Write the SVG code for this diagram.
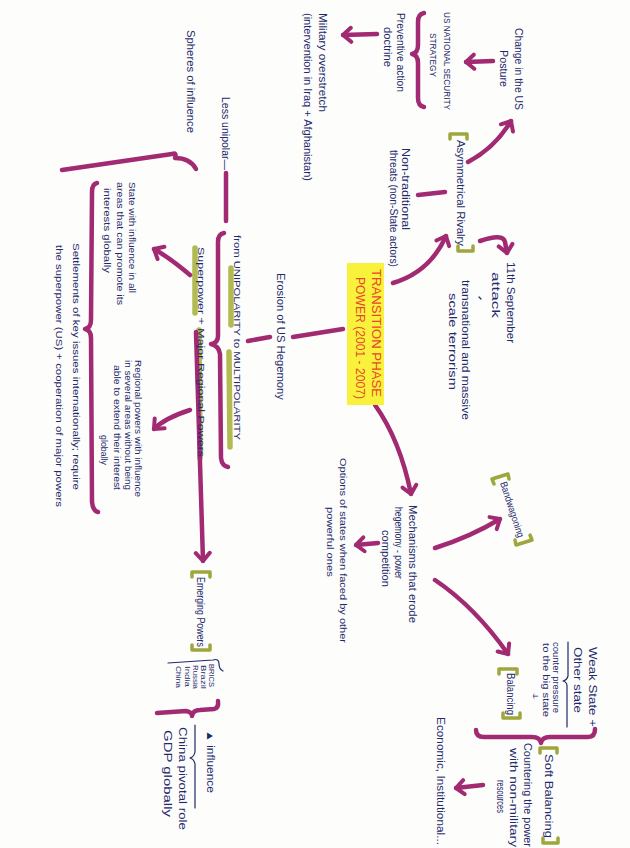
<svg xmlns="http://www.w3.org/2000/svg" width="630" height="848" viewBox="0 0 630 848">
<defs>
<style>
.t{font-family:"Liberation Sans",Arial,sans-serif;font-size:10px;fill:#1f2a6b;}
.s{font-size:8.5px;}
.xs{font-size:7px;}
.r{font-family:"Liberation Sans",Arial,sans-serif;font-size:12px;fill:#e8452c;}
.m{fill:none;stroke:#a12a72;stroke-width:4.5;stroke-linecap:round;stroke-linejoin:round;}
.g{fill:none;stroke:#9ea63c;stroke-width:3.5;stroke-linecap:round;stroke-linejoin:round;}
.hl{fill:none;stroke:#aab33f;stroke-width:5.5;stroke-linecap:round;opacity:0.9;}
.n{fill:none;stroke:#1f2a6b;stroke-width:1.2;stroke-linecap:round;stroke-linejoin:round;}
</style>
<marker id="ah" viewBox="-12 -10 16 20" refX="0" refY="0" markerWidth="16" markerHeight="20" markerUnits="userSpaceOnUse" orient="auto">
<path d="M-8,-7 L0,0 L-8,7" fill="none" stroke="#a12a72" stroke-width="4" stroke-linecap="round" stroke-linejoin="round"/>
</marker>
</defs>
<rect x="0" y="0" width="630" height="848" fill="#fdfdfc"/>

<g id="highlights">
<path class="hl" d="M231,268 L231,325"/>
<path class="hl" d="M229,352 L230,447"/>
<path class="hl" d="M195,248 L195,313"/>
<path class="hl" d="M199,330 L200,458"/>
</g>

<g id="connectors">
<path class="m" marker-end="url(#ah)" d="M493,61 L466,62"/>
<path class="m" marker-end="url(#ah)" d="M377,34 L343,35"/>
<path class="m" marker-end="url(#ah)" d="M468,162 Q495,148 511,121"/>
<path class="m" marker-end="url(#ah)" d="M393,283 Q430,272 446,236"/>
<path class="m" marker-end="url(#ah)" d="M480,241 Q503,233 505,242 L507,253"/>
<path class="m" marker-end="url(#ah)" d="M375,405 Q400,440 411,494"/>
<path class="m" marker-end="url(#ah)" d="M378,543 L356,545"/>
<path class="m" marker-end="url(#ah)" d="M435,548 Q470,537 500,519"/>
<path class="m" marker-end="url(#ah)" d="M435,580 Q475,607 508,654"/>
<path class="m" marker-end="url(#ah)" d="M483,785 L456,788"/>
<path class="m" marker-end="url(#ah)" d="M190,275 Q170,258 154,249"/>
<path class="m" marker-end="url(#ah)" d="M190,410 Q165,418 154,429"/>
<path class="m" marker-end="url(#ah)" d="M196,332 L203,561"/>
<path class="m" d="M343,329 L293,337"/>
<path class="m" d="M270,337 L248,341"/>
<path class="m" d="M418,195 L445,192"/>
<path class="m" d="M226,173 L226,221"/>
</g>

<g id="braces">
<path class="m" d="M424,13 Q418,14 418,22 L418,45 Q418,53 412,54 Q418,55 418,63 L418,98 Q418,106 424,107"/>
<path class="m" d="M224,233 Q218,234 218,242 L218,336 Q218,343 211,344 Q219,346 220,354 L221,458 Q222,466 228,467"/>
<path class="m" d="M97,183 Q92,184 92,192 L91,320 Q91,328 85,329 Q91,330 91,338 L92,502 Q93,511 98,512"/>
<path class="m" d="M62,170 L172,154 Q177,152 175,158 Q190,158 196,169"/>
<path class="m" d="M476,730 Q476,737 484,737 L532,737 Q540,737 541,743 Q542,737 550,737 L588,737 Q595,737 595,729"/>
<path class="m" d="M157,713 L186,711 Q192,712 192,716 Q193,710 200,710 L214,709 Q219,708 218,701"/>
<path class="n" d="M568,642 L568,676 Q567,680 563,681 Q567,682 567,686 L567,727"/>
<path class="n" d="M168,663 L213,660 Q219,658 219,664 Q219,669 223,671"/>
<path class="n" d="M195,725 L195,752 Q194,757 190,758 Q194,759 195,764 L195,808"/>
<path class="n" d="M479,297 L481,299"/>
</g>

<g id="n-change">
<text class="t" transform="translate(515,28) rotate(90)" textLength="82" lengthAdjust="spacingAndGlyphs">Change in the US</text>
<text class="t" transform="translate(500,50) rotate(90)" textLength="37" lengthAdjust="spacingAndGlyphs">Posture</text>
</g>
<g id="n-nss">
<text class="t s" transform="translate(444,12) rotate(90)" textLength="98" lengthAdjust="spacingAndGlyphs">US NATIONAL SECURITY</text>
<text class="t s" transform="translate(430,33) rotate(90)" textLength="44" lengthAdjust="spacingAndGlyphs">STRATEGY</text>
</g>
<g id="n-preventive">
<text class="t" transform="translate(397,13) rotate(90)" textLength="79" lengthAdjust="spacingAndGlyphs">Preventive action</text>
<text class="t" transform="translate(384,27) rotate(90)" textLength="40" lengthAdjust="spacingAndGlyphs">doctrine</text>
</g>
<g id="n-military">
<text class="t" transform="translate(319,13) rotate(90)" textLength="99" lengthAdjust="spacingAndGlyphs">Military overstretch</text>
<text class="t" transform="translate(304,13) rotate(90)" textLength="168" lengthAdjust="spacingAndGlyphs">(intervention in Iraq + Afghanistan)</text>
</g>
<g id="n-asym">
<path class="g" d="M450,139 L450,134 L467,134 L467,139"/>
<text class="t" transform="translate(457,140) rotate(90)" textLength="106" lengthAdjust="spacingAndGlyphs">Asymmetrical Rivalry</text>
<path class="g" d="M458,246 L458,251 L473,251 L473,246"/>
</g>
<g id="n-nontrad">
<text class="t" transform="translate(402,148) rotate(90)" textLength="82" lengthAdjust="spacingAndGlyphs">Non-traditional</text>
<text class="t" transform="translate(390,150) rotate(90)" textLength="117" lengthAdjust="spacingAndGlyphs">threats (non-State actors)</text>
</g>
<g id="n-sept">
<text class="t" transform="translate(507,262) rotate(90)" textLength="81" lengthAdjust="spacingAndGlyphs">11th September</text>
<text class="t" transform="translate(492,272) rotate(90)" textLength="46" lengthAdjust="spacingAndGlyphs">attack</text>
</g>
<g id="n-terror">
<text class="t" transform="translate(462,280) rotate(90)" textLength="140" lengthAdjust="spacingAndGlyphs">transnational and massive</text>
<text class="t" transform="translate(449,293) rotate(90)" textLength="97" lengthAdjust="spacingAndGlyphs">scale terrorism</text>
</g>
<g id="n-center">
<rect x="347" y="263" width="37" height="142" fill="#f9f23c"/>
<text class="r" transform="translate(372,269) rotate(90)" textLength="128" lengthAdjust="spacingAndGlyphs">TRANSITION PHASE</text>
<text class="r" transform="translate(356,277) rotate(90)" textLength="122" lengthAdjust="spacingAndGlyphs">POWER (2001 - 2007)</text>
</g>
<g id="n-erosion">
<text class="t" transform="translate(277,273) rotate(90)" textLength="127" lengthAdjust="spacingAndGlyphs">Erosion of US Hegemony</text>
</g>
<g id="n-unipolarity">
<text class="t" style="font-size:9px" transform="translate(234,235) rotate(90)" textLength="205" lengthAdjust="spacingAndGlyphs">from UNIPOLARITY to MULTIPOLARITY</text>
</g>
<g id="n-superpower">
<text class="t" style="font-size:9px" transform="translate(198,247) rotate(90)" textLength="210" lengthAdjust="spacingAndGlyphs">Superpower + Major Regional Powers</text>
</g>
<g id="n-less">
<text class="t" transform="translate(222,97) rotate(90)" textLength="73" lengthAdjust="spacingAndGlyphs">Less unipolar—</text>
</g>
<g id="n-spheres">
<text class="t" transform="translate(187,30) rotate(90)" textLength="103" lengthAdjust="spacingAndGlyphs">Spheres of influence</text>
</g>
<g id="n-state">
<text class="t s" transform="translate(129,182) rotate(90)" textLength="111" lengthAdjust="spacingAndGlyphs">State with influence in all</text>
<text class="t s" transform="translate(117,182) rotate(90)" textLength="123" lengthAdjust="spacingAndGlyphs">areas that can promote its</text>
<text class="t s" transform="translate(104,188) rotate(90)" textLength="85" lengthAdjust="spacingAndGlyphs">interests globally</text>
</g>
<g id="n-settlements">
<text class="t s" transform="translate(73,243) rotate(90)" textLength="247" lengthAdjust="spacingAndGlyphs">Settlements of key issues internationally; require</text>
<text class="t s" transform="translate(56,245) rotate(90)" textLength="262" lengthAdjust="spacingAndGlyphs">the superpower (US) + cooperation of major powers</text>
</g>
<g id="n-regional">
<text class="t s" transform="translate(135,360) rotate(90)" textLength="137" lengthAdjust="spacingAndGlyphs">Regional powers with influence</text>
<text class="t s" transform="translate(125,360) rotate(90)" textLength="130" lengthAdjust="spacingAndGlyphs">in several areas without being</text>
<text class="t s" transform="translate(114,365) rotate(90)" textLength="125" lengthAdjust="spacingAndGlyphs">able to extend their interest</text>
<text class="t s" transform="translate(101,435) rotate(90)" textLength="30" lengthAdjust="spacingAndGlyphs">globally</text>
</g>
<g id="n-mechanisms">
<text class="t" transform="translate(409,505) rotate(90)" textLength="118" lengthAdjust="spacingAndGlyphs">Mechanisms that erode</text>
<text class="t" transform="translate(395,507) rotate(90)" textLength="72" lengthAdjust="spacingAndGlyphs">hegemony - power</text>
<text class="t" transform="translate(382,530) rotate(90)" textLength="57" lengthAdjust="spacingAndGlyphs">competition</text>
</g>
<g id="n-options">
<text class="t" style="font-size:9px" transform="translate(340,458) rotate(90)" textLength="185" lengthAdjust="spacingAndGlyphs">Options of states when faced by other</text>
<text class="t" style="font-size:9px" transform="translate(327,507) rotate(90)" textLength="70" lengthAdjust="spacingAndGlyphs">powerful ones</text>
</g>
<g id="n-bandwagoning">
<path class="g" d="M494,484 L492,479 L508,474 L509,479"/>
<text class="t" transform="translate(500,483) rotate(72)" textLength="58" lengthAdjust="spacingAndGlyphs">Bandwagoning</text>
<path class="g" d="M515,540 L516,545 L532,540 L530,535"/>
</g>
<g id="n-balancing">
<path class="g" d="M499,674 L499,669 L517,669 L517,674"/>
<text class="t" transform="translate(507,673) rotate(90)" textLength="42" lengthAdjust="spacingAndGlyphs">Balancing</text>
<path class="g" d="M503,713 L503,718 L520,718 L520,713"/>
</g>
<g id="n-weak">
<text class="t" transform="translate(589,647) rotate(90)" textLength="80" lengthAdjust="spacingAndGlyphs">Weak State +</text>
<text class="t" transform="translate(574,647) rotate(90)" textLength="66" lengthAdjust="spacingAndGlyphs">Other state</text>
<text class="t s" transform="translate(553,642) rotate(90)" textLength="71" lengthAdjust="spacingAndGlyphs">counter pressure</text>
<text class="t s" transform="translate(543,643) rotate(90)" textLength="74" lengthAdjust="spacingAndGlyphs">to the big state</text>
<text class="t s" transform="translate(533,690) rotate(90)" textLength="12" lengthAdjust="spacingAndGlyphs">↓</text>
</g>
<g id="n-soft">
<path class="g" d="M540,753 L540,748 L557,748 L557,753"/>
<text class="t" transform="translate(545,754) rotate(90)" textLength="84" lengthAdjust="spacingAndGlyphs">Soft Balancing</text>
<path class="g" d="M543,838 L543,843 L558,843 L558,838"/>
</g>
<g id="n-countering">
<text class="t" transform="translate(524,743) rotate(90)" textLength="104" lengthAdjust="spacingAndGlyphs">Countering the power</text>
<text class="t" transform="translate(510,748) rotate(90)" textLength="99" lengthAdjust="spacingAndGlyphs">with non-military</text>
<text class="t" transform="translate(497,780) rotate(90)" textLength="33" lengthAdjust="spacingAndGlyphs">resources</text>
</g>
<g id="n-economic">
<text class="t" transform="translate(437,717) rotate(90)" textLength="128" lengthAdjust="spacingAndGlyphs">Economic, Institutional...</text>
</g>
<g id="n-emerging">
<path class="g" d="M192,577 L192,572 L210,572 L210,577"/>
<text class="t" transform="translate(197,577) rotate(90)" textLength="70" lengthAdjust="spacingAndGlyphs">Emerging Powers</text>
<path class="g" d="M192,645 L192,650 L210,650 L210,645"/>
</g>
<g id="n-brics">
<text class="t xs" transform="translate(209,664) rotate(90)" textLength="23" lengthAdjust="spacingAndGlyphs">BRICS</text>
<text class="t xs" transform="translate(201,665) rotate(90)" textLength="24" lengthAdjust="spacingAndGlyphs">Brazil</text>
<text class="t xs" transform="translate(193,665) rotate(90)" textLength="24" lengthAdjust="spacingAndGlyphs">Russia</text>
<text class="t xs" transform="translate(185,666) rotate(90)" textLength="21" lengthAdjust="spacingAndGlyphs">India</text>
<text class="t xs" transform="translate(176,666) rotate(90)" textLength="22" lengthAdjust="spacingAndGlyphs">China</text>
</g>
<g id="n-influence">
<text class="t" transform="translate(207,730) rotate(90)" textLength="63" lengthAdjust="spacingAndGlyphs">▲ influence</text>
<text class="t" transform="translate(179,727) rotate(90)" textLength="103" lengthAdjust="spacingAndGlyphs">China pivotal role</text>
<text class="t" transform="translate(164,730) rotate(90)" textLength="87" lengthAdjust="spacingAndGlyphs">GDP globally</text>
</g>
</svg>
